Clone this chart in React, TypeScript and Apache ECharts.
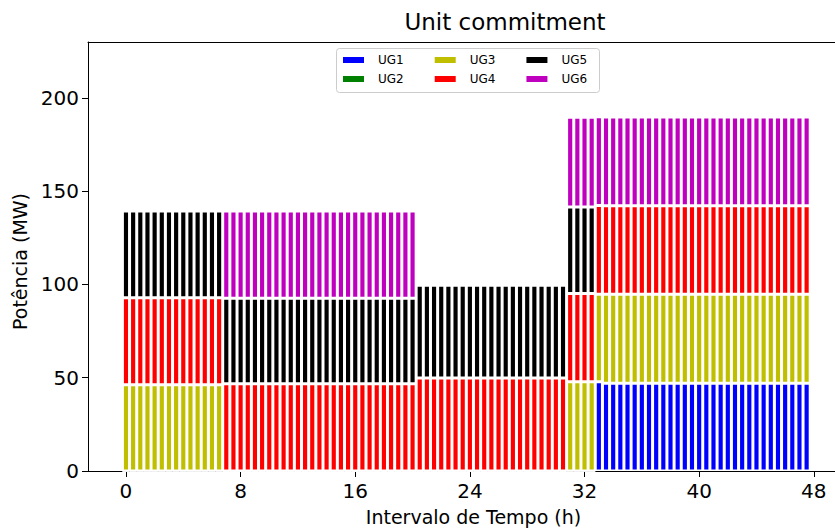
import React, { useEffect, useRef } from "react";
import * as echarts from "echarts";

// time steps (h), one bar every half hour
const hours = [
  0, 0.5, 1, 1.5, 2, 2.5, 3, 3.5, 4, 4.5, 5, 5.5, 6, 6.5, 7, 7.5,
  8, 8.5, 9, 9.5, 10, 10.5, 11, 11.5, 12, 12.5, 13, 13.5, 14, 14.5, 15, 15.5,
  16, 16.5, 17, 17.5, 18, 18.5, 19, 19.5, 20, 20.5, 21, 21.5, 22, 22.5, 23, 23.5,
  24, 24.5, 25, 25.5, 26, 26.5, 27, 27.5, 28, 28.5, 29, 29.5, 30, 30.5, 31, 31.5,
  32, 32.5, 33, 33.5, 34, 34.5, 35, 35.5, 36, 36.5, 37, 37.5, 38, 38.5, 39, 39.5,
  40, 40.5, 41, 41.5, 42, 42.5, 43, 43.5, 44, 44.5, 45, 45.5, 46, 46.5, 47, 47.5,
];

const UG1 = [
  0, 0, 0, 0, 0, 0, 0, 0, 0, 0, 0, 0, 0, 0, 0, 0,
  0, 0, 0, 0, 0, 0, 0, 0, 0, 0, 0, 0, 0, 0, 0, 0,
  0, 0, 0, 0, 0, 0, 0, 0, 0, 0, 0, 0, 0, 0, 0, 0,
  0, 0, 0, 0, 0, 0, 0, 0, 0, 0, 0, 0, 0, 0, 0, 0,
  0, 0, 47.8, 47.1, 47.1, 47.1, 47.1, 47.1, 47.1, 47.1, 47.1, 47.1, 47.1, 47.1, 47.1, 47.1,
  47.1, 47.1, 47.1, 47.1, 47.1, 47.1, 47.1, 47.1, 47.1, 47.1, 47.1, 47.1, 47.1, 47.1, 47.1, 47.1,
];
const UG2 = [
  0, 0, 0, 0, 0, 0, 0, 0, 0, 0, 0, 0, 0, 0, 0, 0,
  0, 0, 0, 0, 0, 0, 0, 0, 0, 0, 0, 0, 0, 0, 0, 0,
  0, 0, 0, 0, 0, 0, 0, 0, 0, 0, 0, 0, 0, 0, 0, 0,
  0, 0, 0, 0, 0, 0, 0, 0, 0, 0, 0, 0, 0, 0, 0, 0,
  0, 0, 0, 0, 0, 0, 0, 0, 0, 0, 0, 0, 0, 0, 0, 0,
  0, 0, 0, 0, 0, 0, 0, 0, 0, 0, 0, 0, 0, 0, 0, 0,
];
const UG3 = [
  46.2, 46.2, 46.2, 46.2, 46.2, 46.2, 46.2, 46.2, 46.2, 46.2, 46.2, 46.2, 46.2, 46.2, 0, 0,
  0, 0, 0, 0, 0, 0, 0, 0, 0, 0, 0, 0, 0, 0, 0, 0,
  0, 0, 0, 0, 0, 0, 0, 0, 0, 0, 0, 0, 0, 0, 0, 0,
  0, 0, 0, 0, 0, 0, 0, 0, 0, 0, 0, 0, 0, 0, 47.8, 47.8,
  47.8, 47.8, 47.0, 47.6, 47.6, 47.6, 47.6, 47.6, 47.6, 47.6, 47.6, 47.6, 47.6, 47.6, 47.6, 47.6,
  47.6, 47.6, 47.6, 47.6, 47.6, 47.6, 47.6, 47.6, 47.6, 47.6, 47.6, 47.6, 47.6, 47.6, 47.6, 47.6,
];
const UG4 = [
  46.7, 46.7, 46.7, 46.7, 46.7, 46.7, 46.7, 46.7, 46.7, 46.7, 46.7, 46.7, 46.7, 46.7, 46.8, 46.8,
  46.8, 46.8, 46.8, 46.8, 46.8, 46.8, 46.8, 46.8, 46.8, 46.8, 46.8, 46.8, 46.8, 46.8, 46.8, 46.8,
  46.8, 46.8, 46.8, 46.8, 46.8, 46.8, 46.8, 46.8, 46.8, 49.8, 49.8, 49.8, 49.8, 49.8, 49.8, 49.8,
  49.8, 49.8, 49.8, 49.8, 49.8, 49.8, 49.8, 49.8, 49.8, 49.8, 49.8, 49.8, 49.8, 49.8, 47.4, 47.4,
  47.4, 47.4, 47.5, 47.5, 47.5, 47.5, 47.5, 47.5, 47.5, 47.5, 47.5, 47.5, 47.5, 47.5, 47.5, 47.5,
  47.5, 47.5, 47.5, 47.5, 47.5, 47.5, 47.5, 47.5, 47.5, 47.5, 47.5, 47.5, 47.5, 47.5, 47.5, 47.5,
];
const UG5 = [
  46.5, 46.5, 46.5, 46.5, 46.5, 46.5, 46.5, 46.5, 46.5, 46.5, 46.5, 46.5, 46.5, 46.5, 45.8, 45.8,
  45.8, 45.8, 45.8, 45.8, 45.8, 45.8, 45.8, 45.8, 45.8, 45.8, 45.8, 45.8, 45.8, 45.8, 45.8, 45.8,
  45.8, 45.8, 45.8, 45.8, 45.8, 45.8, 45.8, 45.8, 45.8, 49.8, 49.8, 49.8, 49.8, 49.8, 49.8, 49.8,
  49.8, 49.8, 49.8, 49.8, 49.8, 49.8, 49.8, 49.8, 49.8, 49.8, 49.8, 49.8, 49.8, 49.8, 46.3, 46.3,
  46.3, 46.3, 0, 0, 0, 0, 0, 0, 0, 0, 0, 0, 0, 0, 0, 0,
  0, 0, 0, 0, 0, 0, 0, 0, 0, 0, 0, 0, 0, 0, 0, 0,
];
const UG6 = [
  0, 0, 0, 0, 0, 0, 0, 0, 0, 0, 0, 0, 0, 0, 46.8, 46.8,
  46.8, 46.8, 46.8, 46.8, 46.8, 46.8, 46.8, 46.8, 46.8, 46.8, 46.8, 46.8, 46.8, 46.8, 46.8, 46.8,
  46.8, 46.8, 46.8, 46.8, 46.8, 46.8, 46.8, 46.8, 46.8, 0, 0, 0, 0, 0, 0, 0,
  0, 0, 0, 0, 0, 0, 0, 0, 0, 0, 0, 0, 0, 0, 48.2, 48.2,
  48.2, 48.2, 47.6, 47.6, 47.6, 47.6, 47.6, 47.6, 47.6, 47.6, 47.6, 47.6, 47.6, 47.6, 47.6, 47.6,
  47.6, 47.6, 47.6, 47.6, 47.6, 47.6, 47.6, 47.6, 47.6, 47.6, 47.6, 47.6, 47.6, 47.6, 47.6, 47.6,
];

const seriesNames = ["UG1", "UG2", "UG3", "UG4", "UG5", "UG6"];
const seriesValues = [UG1, UG2, UG3, UG4, UG5, UG6];
const seriesColors = ["#0000ff", "#008000", "#bfbf00", "#ff0000", "#000000", "#bf00bf"];
const xTicks = [0, 8, 16, 24, 32, 40, 48];
const yTicks = [0, 50, 100, 150, 200];

const FONT = "DejaVu Sans";

export default function App() {
  const ref = useRef<HTMLDivElement>(null);

  useEffect(() => {
    document.body.style.margin = "0";
    const chart = echarts.init(ref.current!, null, { renderer: "svg" });
    const W = 835;
    const gridLeft = 88;
    const gridRight = 0;
    const gridTop = 42;
    const gridBottom = 59;
    const xMin = -2.65;
    const xMax = 49.48;
    const plotW = W - gridLeft - gridRight;
    const barW = (plotW / (xMax - xMin)) * 0.5;

    const legendCommon = {
      orient: "horizontal",
      left: 341,
      padding: 0,
      itemWidth: 23,
      itemHeight: 8,
      itemGap: 29,
      icon: "rect",
      selectedMode: false,
      textStyle: { fontFamily: FONT, fontSize: 12, color: "#000", padding: [0, 0, 0, 8] },
    };

    chart.setOption({
      animation: false,
      backgroundColor: "#fff",
      title: {
        text: "Unit commitment",
        left: 500,
        top: 5,
        textAlign: "center",
        textStyle: { fontFamily: FONT, fontSize: 23, fontWeight: "normal", color: "#000" },
      },
      legend: [
        { ...legendCommon, top: 54, data: ["UG1", "UG3", "UG5"] },
        { ...legendCommon, top: 73, data: ["UG2", "UG4", "UG6"] },
      ],
      graphic: [
        {
          type: "rect",
          z: 3,
          shape: { x: 336.5, y: 48.5, width: 263, height: 44, r: 3 },
          style: { fill: "rgba(255,255,255,0.8)", stroke: "#cccccc", lineWidth: 1 },
        },
      ],
      grid: {
        left: gridLeft,
        right: gridRight,
        top: gridTop,
        bottom: gridBottom,
        show: false,
      },
      xAxis: [
        {
          type: "value",
          min: xMin,
          max: xMax,
          name: "Intervalo de Tempo (h)",
          nameLocation: "middle",
          nameGap: 36,
          nameTextStyle: { fontFamily: FONT, fontSize: 19, color: "#000", padding: [0, 0, 0, 24] },
          axisLine: { show: true, onZero: false, lineStyle: { color: "#000", width: 1 } },
          axisTick: { show: true, length: 6, customValues: xTicks, lineStyle: { color: "#000" } },
          axisLabel: { customValues: xTicks, fontFamily: FONT, fontSize: 20, color: "#000", margin: 10 },
          splitLine: { show: false },
        },
        {
          type: "value",
          position: "top",
          min: xMin,
          max: xMax,
          axisLine: { show: true, onZero: false, lineStyle: { color: "#000", width: 1 } },
          axisTick: { show: false },
          axisLabel: { show: false },
          splitLine: { show: false },
        },
      ],
      yAxis: {
        type: "value",
        min: 0,
        max: 230,
        name: "Potência (MW)",
        nameLocation: "middle",
        nameGap: 58,
        nameTextStyle: { fontFamily: FONT, fontSize: 19, color: "#000", padding: [0, 10, 0, 0] },
        axisLine: { show: true, onZero: false, lineStyle: { color: "#000", width: 1 } },
        axisTick: { show: true, length: 6, customValues: yTicks, lineStyle: { color: "#000" } },
        axisLabel: { customValues: yTicks, fontFamily: FONT, fontSize: 20, color: "#000", margin: 9 },
        splitLine: { show: false },
      },
      series: seriesNames.map((name, si) => ({
        name,
        type: "bar",
        stack: "total",
        xAxisIndex: 0,
        barWidth: barW,
        encode: { x: 1, y: 0 },
        itemStyle: {
          color: seriesColors[si],
          borderColor: "#ffffff",
          borderWidth: 1.5,
        },
        data: hours.map((h, i) => [seriesValues[si][i], h]),
      })),
    });

    return () => chart.dispose();
  }, []);

  return <div ref={ref} style={{ width: 835, height: 531 }} />;
}
